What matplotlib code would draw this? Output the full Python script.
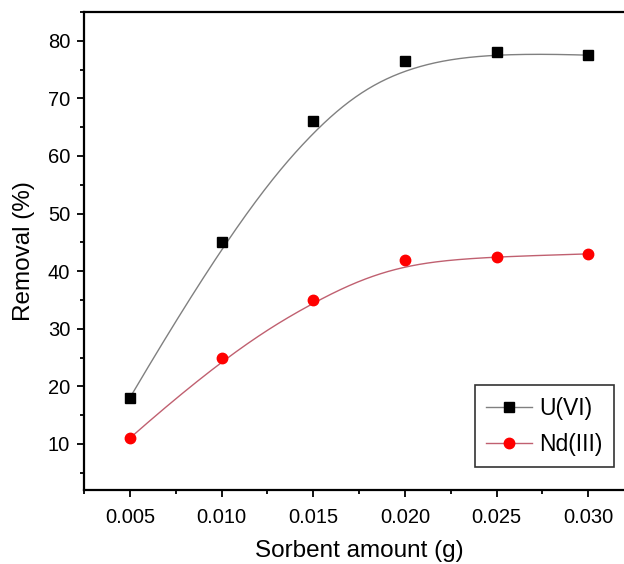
"""Removal vs sorbent amount for U(VI) and Nd(III)."""

import matplotlib

matplotlib.use("Agg")
import matplotlib.pyplot as plt
import numpy as np
from matplotlib.ticker import MultipleLocator

sorbent_g = [0.005, 0.010, 0.015, 0.020, 0.025, 0.030]
u_removal = [18.0, 45.0, 66.0, 76.5, 78.0, 77.5]
nd_removal = [11.0, 25.0, 35.0, 42.0, 42.5, 43.0]

x_ticks = [0.005, 0.010, 0.015, 0.020, 0.025, 0.030]
x_tick_labels = ["0.005", "0.010", "0.015", "0.020", "0.025", "0.030"]
y_ticks = [10, 20, 30, 40, 50, 60, 70, 80]


def _bspline(xs, ys, samples=300, degree=3):
    """Clamped cubic B-spline using the data points as control points."""
    ctrl = np.column_stack([xs, ys])
    n = len(ctrl)
    inner = np.arange(1, n - degree)
    knots = np.concatenate([np.zeros(degree + 1), inner, np.full(degree + 1, n - degree)]).astype(float)
    t = np.linspace(0, knots[-1], samples)
    t[-1] -= 1e-9
    basis = np.zeros((samples, len(knots) - 1))
    for i in range(len(knots) - 1):
        basis[:, i] = (t >= knots[i]) & (t < knots[i + 1])
    for k in range(1, degree + 1):
        new = np.zeros((samples, len(knots) - 1 - k))
        for i in range(len(knots) - 1 - k):
            left = knots[i + k] - knots[i]
            right = knots[i + k + 1] - knots[i + 1]
            term = 0.0
            if left > 0:
                term = term + (t - knots[i]) / left * basis[:, i]
            if right > 0:
                term = term + (knots[i + k + 1] - t) / right * basis[:, i + 1]
            new[:, i] = term
        basis = new
    curve = basis @ ctrl
    return curve[:, 0], curve[:, 1]


plt.rcParams["font.family"] = ["Liberation Sans", "DejaVu Sans"]

fig = plt.figure(figsize=(6.24, 5.64), dpi=100)
ax = fig.add_axes([84 / 624, 1 - 490 / 564, (634 - 84) / 624, (490 - 12) / 564])

series = [
    (u_removal, "U(VI)", "#808080", "black", "s"),
    (nd_removal, "Nd(III)", "#c06070", "#ff0000", "o"),
]
for values, label, line_color, marker_color, marker in series:
    cx, cy = _bspline(sorbent_g, values)
    ax.plot(cx, cy, color=line_color, linewidth=1.0, zorder=2)
    ax.plot(sorbent_g, values, linestyle="none", marker=marker, markersize=7.5,
            color=marker_color, zorder=3)
    # legend proxy
    ax.plot([], [], color=line_color, linewidth=1.0, marker=marker, markersize=7.5,
            markerfacecolor=marker_color, markeredgecolor=marker_color, label=label)

ax.set_xlim(0.0025, 0.0325)
ax.set_ylim(2, 85)
ax.set_xticks(x_ticks)
ax.set_xticklabels(x_tick_labels)
ax.set_yticks(y_ticks)
ax.xaxis.set_minor_locator(MultipleLocator(0.0025))
ax.yaxis.set_minor_locator(MultipleLocator(5))
ax.tick_params(which="both", direction="out", width=1.3, labelsize=14.5, top=False, right=False)
ax.tick_params(which="major", length=5)
ax.tick_params(which="minor", length=3)
ax.tick_params(axis="x", which="major", pad=8)
ax.tick_params(axis="y", which="major", pad=5)
for spine in ax.spines.values():
    spine.set_linewidth(1.6)

ax.set_xlabel("Sorbent amount (g)", fontsize=17.5, labelpad=9)
ax.set_ylabel("Removal (%)", fontsize=17.5, labelpad=9)

legend = ax.legend(
    loc="lower right",
    bbox_to_anchor=(614 / 624, 1 - 467 / 564),
    bbox_transform=fig.transFigure,
    borderaxespad=0,
    fontsize=16.5,
    frameon=True,
    fancybox=False,
    handlelength=2.0,
    handletextpad=0.3,
    labelspacing=0.55,
    borderpad=0.5,
)
legend.get_frame().set_edgecolor("black")
legend.get_frame().set_linewidth(1.2)

fig.savefig("out.png", dpi=100)
plt.close(fig)
